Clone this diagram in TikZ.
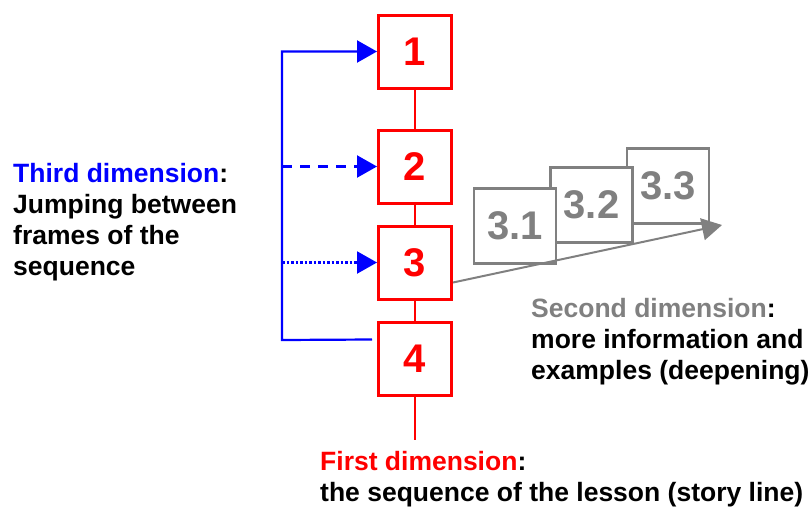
\documentclass[tikz,border=0pt]{standalone}
\usepackage{fontspec}
\setmainfont{Liberation Sans}
\usepackage{tikz}
\usetikzlibrary{arrows.meta}
\usetikzlibrary{positioning}
\definecolor{pagegray}{RGB}{128,128,128}
\tikzset{>={Triangle[length=20pt,width=22pt]}, node distance=20pt, font=\fontsize{26.5}{31}\selectfont\bfseries}
\tikzstyle{frameblock} = [draw=red, line width=3pt, fill=white, rectangle, minimum size=73pt, inner sep=0pt, text=red, font=\fontsize{40}{40}\selectfont\bfseries]
\tikzstyle{subblock} = [draw=pagegray, line width=2.4pt, fill=white, rectangle, minimum width=82pt, minimum height=75pt, inner sep=0pt, text=pagegray, font=\fontsize{40}{40}\selectfont\bfseries]
\tikzstyle{storyline} = [red, line width=2.4pt]
\tikzstyle{jumpline} = [blue, line width=2.2pt]
\tikzstyle{deepline} = [pagegray, line width=2pt]
\tikzstyle{dimtext} = [align=left, anchor=base west, inner sep=0pt]

\begin{document}
\begin{tikzpicture}[x=1pt, y=-1pt]
		\useasboundingbox (0,0) rectangle (812,509);

		\node [frameblock] (one) at (415,51.5) {1};
		\node [frameblock, below=39pt of one] (two) {2};
		\node [frameblock, below=20pt of two] (three) {3};
		\node [frameblock, below=20pt of three] (four) {4};

		\coordinate (storyend) at (415,440);
		\coordinate (trunk) at (282,340);
		\coordinate (deepend) at (722,225);

		\draw [storyline] (one) -- (two);
		\draw [storyline] (two) -- (three);
		\draw [storyline] (three) -- (four);
		\draw [storyline] (four) -- (storyend);

		\node [subblock] (sub3) at (668,186) {3.3};
		\node [subblock] (sub2) at (591.5,205) {3.2};
		\node [subblock] (sub1) at (515,226) {3.1};

		\draw [deepline, ->] ([yshift=-20pt]three.east) -- (deepend);

		\draw [jumpline, ->] ([xshift=-5pt, yshift=19pt]four.west) -- (trunk) |- (one.west);
		\draw [jumpline, ->, dash pattern=on 10pt off 8pt] (trunk |- two.west) -- (two.west);
		\draw [jumpline, ->, dash pattern=on 2.5pt off 2pt] (trunk |- three.west) -- (three.west);

		\node [dimtext] (third) at (13,275) {\textcolor{blue}{Third dimension}:\\Jumping between\\frames of the\\sequence};
		\node [dimtext] (second) at (531,379) {\textcolor{pagegray}{Second dimension}:\\more information and\\examples (deepening)};
		\node [dimtext] (first) at (320,501) {\textcolor{red}{First dimension}:\\the sequence of the lesson (story line)};
	\end{tikzpicture}
\end{document}
